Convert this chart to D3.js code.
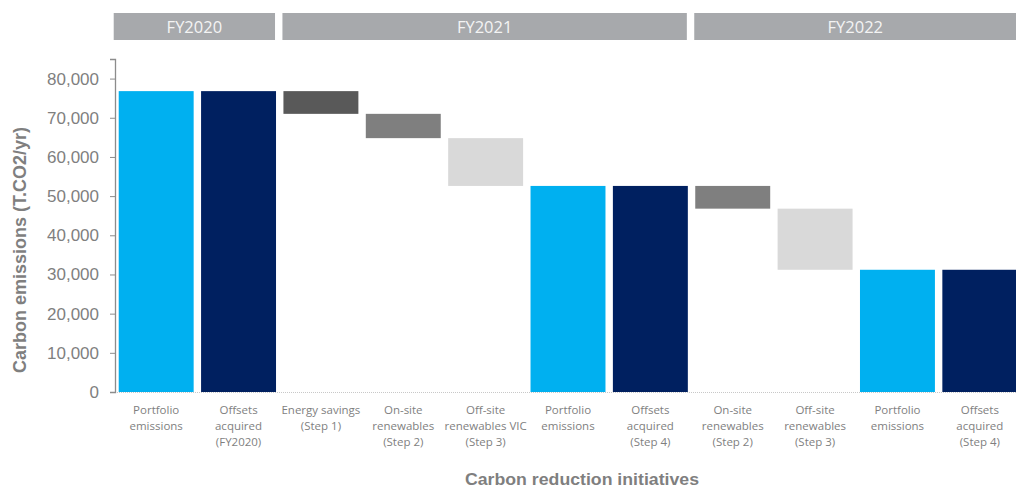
<!DOCTYPE html>
<html>
<head>
<meta charset="utf-8">
<script src="https://cdn.jsdelivr.net/npm/d3@7"></script>
<style>
  body { margin: 0; background: #fff; }
  .tick text { font-family: "Liberation Sans", Arial, sans-serif; }
</style>
</head>
<body>
<svg id="chart"></svg>
<script>
// categories (one entry per bar, lines split for wrapping)
var categories = [
  ["Portfolio", "emissions"],
  ["Offsets", "acquired", "(FY2020)"],
  ["Energy savings", "(Step 1)"],
  ["On-site", "renewables", "(Step 2)"],
  ["Off-site", "renewables VIC", "(Step 3)"],
  ["Portfolio", "emissions"],
  ["Offsets", "acquired", "(Step 4)"],
  ["On-site", "renewables", "(Step 2)"],
  ["Off-site", "renewables", "(Step 3)"],
  ["Portfolio", "emissions"],
  ["Offsets", "acquired", "(Step 4)"]
];
// bar kind drives the colour
var kinds = ["total", "offset", "step1", "step2", "step3", "total", "offset", "step2", "step3", "total", "offset"];
// waterfall bar bottoms / tops (T.CO2/yr)
var lows  = [0, 0, 71000, 64800, 52600, 0, 0, 46800, 31200, 0, 0];
var highs = [76800, 76800, 76800, 71000, 64800, 52600, 52600, 52600, 46800, 31200, 31200];
// year headers: label, first bar, last bar
var years = ["FY2020", "FY2021", "FY2022"];
var yearFirst = [0, 2, 7];
var yearLast = [1, 6, 10];
var yTicks = [0, 10000, 20000, 30000, 40000, 50000, 60000, 70000, 80000];

var colors = {
  total: "#00b0f0",
  offset: "#002060",
  step1: "#595959",
  step2: "#7f7f7f",
  step3: "#d9d9d9"
};

var w = 1016;
var h = 488;
var padding = { top: 59, bottom: 96, left: 115 };

var svg = d3.select("#chart")
  .attr("width", w)
  .attr("height", h);

var idx = d3.range(categories.length);

var xScale = d3.scaleBand()
  .domain(idx)
  .range([padding.left, 1021])
  .paddingInner(0.09)
  .paddingOuter(0.045);

var yScale = d3.scaleLinear()
  .domain([0, 85000])
  .range([h - padding.bottom, padding.top]);

// dotted baseline
svg.append("line")
  .attr("x1", padding.left)
  .attr("x2", w)
  .attr("y1", yScale(0) + 0.5)
  .attr("y2", yScale(0) + 0.5)
  .attr("stroke", "#c8c8c8")
  .attr("stroke-dasharray", "1,1");

// bars
svg.selectAll("rect.bar")
  .data(idx)
  .enter()
  .append("rect")
  .attr("class", "bar")
  .attr("x", function(i) { return xScale(i); })
  .attr("width", xScale.bandwidth())
  .attr("y", function(i) { return yScale(highs[i]); })
  .attr("height", function(i) { return yScale(lows[i]) - yScale(highs[i]); })
  .attr("fill", function(i) { return colors[kinds[i]]; });

// y axis
var yAxis = d3.axisLeft(yScale)
  .tickValues(yTicks)
  .tickSize(5)
  .tickPadding(11)
  .tickFormat(d3.format(","));

var gy = svg.append("g")
  .attr("transform", "translate(" + padding.left + ",0)")
  .call(yAxis);
gy.select(".domain").attr("stroke", "#8c8c8c").attr("stroke-width", 1.3);
gy.selectAll(".tick line").attr("stroke", "#8c8c8c");
gy.selectAll(".tick text")
  .attr("fill", "#7f7f7f")
  .style("font-size", "17px");

// category labels
var lab = svg.selectAll("text.cat")
  .data(idx)
  .enter()
  .append("text")
  .attr("class", "cat")
  .attr("text-anchor", "middle")
  .attr("fill", "#7f7f7f")
  .style("font-family", "'Open Sans', sans-serif")
  .style("font-size", "11.5px");
lab.each(function(i) {
  var t = d3.select(this);
  categories[i].forEach(function(line, k) {
    t.append("tspan")
      .attr("x", xScale(i) + xScale.bandwidth() / 2)
      .attr("y", 414 + k * 16)
      .text(line);
  });
});

// year headers
years.forEach(function(yr, k) {
  var x0 = xScale(yearFirst[k]) - (k == 0 ? 5 : 1);
  var x1 = Math.min(xScale(yearLast[k]) + xScale.bandwidth() - 1, w + 10);
  svg.append("rect")
    .attr("x", x0)
    .attr("y", 13)
    .attr("width", x1 - x0)
    .attr("height", 27)
    .attr("fill", "#a7a9ac");
  svg.append("text")
    .text(yr)
    .attr("x", (x0 + x1) / 2)
    .attr("y", 33)
    .attr("text-anchor", "middle")
    .attr("fill", "#f4f4f4")
    .style("font-family", "'Open Sans', sans-serif")
    .style("font-size", "16.5px");
});

// axis titles
svg.append("text")
  .text("Carbon emissions  (T.CO2/yr)")
  .attr("transform", "translate(26,250) rotate(-90)")
  .attr("text-anchor", "middle")
  .attr("fill", "#7f7f7f")
  .attr("textLength", 246)
  .attr("lengthAdjust", "spacingAndGlyphs")
  .style("font-family", "'Liberation Sans', Arial, sans-serif")
  .style("font-weight", "bold")
  .style("font-size", "18px");

svg.append("text")
  .text("Carbon reduction  initiatives")
  .attr("x", 582)
  .attr("y", 485)
  .attr("text-anchor", "middle")
  .attr("fill", "#7f7f7f")
  .attr("textLength", 234)
  .attr("lengthAdjust", "spacingAndGlyphs")
  .style("font-family", "'Liberation Sans', Arial, sans-serif")
  .style("font-weight", "bold")
  .style("font-size", "16px");
</script>
</body>
</html>
